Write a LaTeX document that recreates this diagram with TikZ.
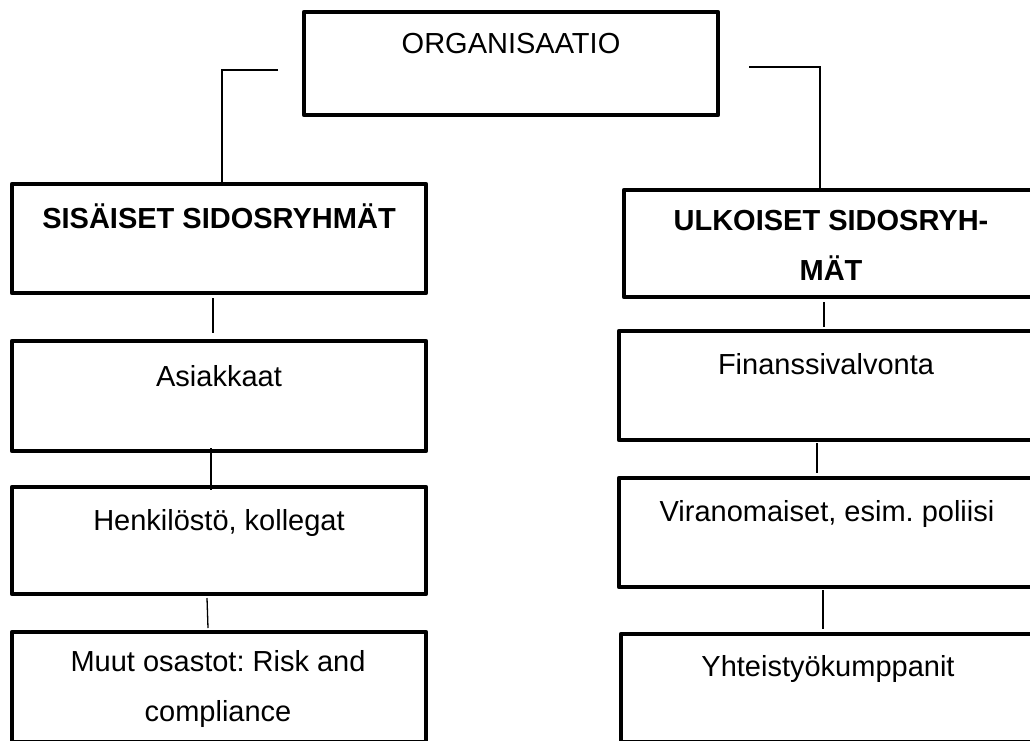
\documentclass[tikz,border=0pt]{standalone}
\usepackage{fontspec}
\setmainfont{Liberation Sans}
\usetikzlibrary{calc}
\frenchspacing
\begin{document}
\frenchspacing
\begin{tikzpicture}[x=1pt,y=-1pt,
  box/.style={draw, line width=4.3pt, rectangle, inner sep=0pt, outer sep=0pt, anchor=north west, line join=round},
  lbl/.style={anchor=base, font=\fontsize{29}{50}\selectfont, inner sep=0pt, align=center},
  blbl/.style={lbl, font=\fontsize{29}{50}\selectfont\bfseries},
  conn/.style={line width=1.3pt}]
\useasboundingbox (0,0) rectangle (1030,740);
% boxes
\node[box, minimum width=414pt, minimum height=103pt] (org) at (304,12) {};
\node[box, minimum width=414pt, minimum height=109pt] (sis) at (12,184) {};
\node[box, minimum width=416pt, minimum height=107pt] (ulk) at (624,190) {};
\node[box, minimum width=414pt, minimum height=110pt] (asi) at (12,341) {};
\node[box, minimum width=414pt, minimum height=107pt] (hen) at (12,487) {};
\node[box, minimum width=414pt, minimum height=110pt] (muu) at (12,632) {};
\node[box, minimum width=421pt, minimum height=109pt] (fin) at (619,331) {};
\node[box, minimum width=421pt, minimum height=109pt] (vir) at (619,478) {};
\node[box, minimum width=419pt, minimum height=108pt] (yht) at (621,634) {};
% texts (multi-line nodes: base = last line)
\node[lbl] (torg) at (511,53) {ORGANISAATIO};
\node[blbl] (tsis) at (219,228) {SISÄISET SIDOSRYHMÄT};
\node[blbl] (tulk) at (831,280) {ULKOISET SIDOSRYH-\\MÄT};
\node[lbl] (tasi) at (219,386) {Asiakkaat};
\node[lbl] (then) at (219,530) {Henkilöstö, kollegat};
\node[lbl] (tmuu) at (218,721) {Muut osastot: Risk and\\compliance};
\node[lbl] (tfin) at (826,374) {Finanssivalvonta};
\node[lbl] (tvir) at (827,521) {Viranomaiset, esim. poliisi};
\node[lbl] (tyht) at (828,676) {Yhteistyökumppanit};
% connectors
\coordinate (cl) at (278,70);
\coordinate (cr) at (749,67);
\draw[conn] (cl) -| ($(sis.north west)+(210,0)$);
\draw[conn] (cr) -| ($(ulk.north west)+(196,0)$);
\draw[conn] ($(sis.south west)+(201,5)$) -- ($(asi.north west)+(201,-8)$);
\draw[conn] ($(asi.south west)+(199,-3)$) -- ($(hen.north west)+(199,3)$);
\draw[conn] ($(hen.south west)+(195,4)$) -- ($(muu.north west)+(196,-4)$);
\draw[conn] ($(ulk.south west)+(200,5)$) -- ($(fin.north west)+(205,-4)$);
\draw[conn] ($(fin.south west)+(198,3)$) -- ($(vir.north west)+(198,-5)$);
\draw[conn] ($(vir.south west)+(204,3)$) -- ($(yht.north west)+(202,-5)$);
\end{tikzpicture}
\end{document}
